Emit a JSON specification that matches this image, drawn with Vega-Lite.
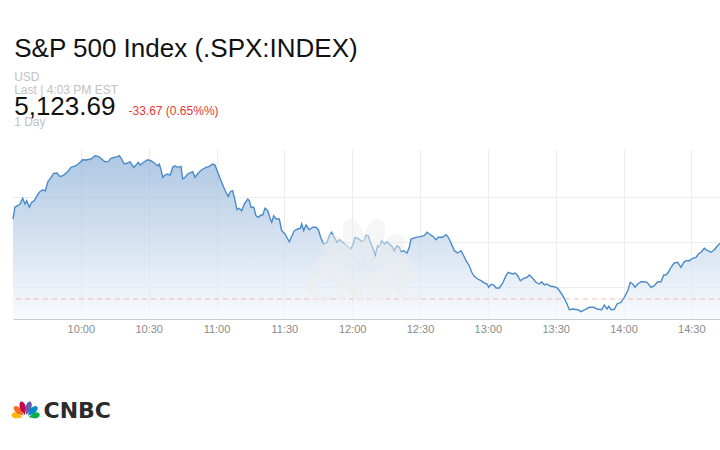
{
  "$schema": "https://vega.github.io/schema/vega-lite/v6.json",
  "background": "white",
  "padding": {"left": 10, "top": 36, "right": 0, "bottom": 0},
  "title": {
    "text": "S&P 500 Index (.SPX:INDEX)",
    "subtitle": ["USD", "Last | 4:03 PM EST"],
    "anchor": "start", "dx": 4, "offset": -2,
    "font": "Liberation Sans", "fontSize": 26, "fontWeight": "normal", "color": "#111111",
    "subtitleFont": "Liberation Sans", "subtitleFontSize": 12, "subtitleColor": "#c2c2c2",
    "subtitleLineHeight": 13, "subtitlePadding": 10
  },
  "vconcat": [
    {
      "width": 710,
      "height": 170,
      "title": {
        "text": "5,123.69", "subtitle": "1 Day",
        "anchor": "start", "dx": 4, "offset": -24,
        "font": "Liberation Sans", "fontSize": 26, "fontWeight": "normal", "color": "#111111",
        "subtitleFont": "Liberation Sans", "subtitleFontSize": 12, "subtitleColor": "#c2c2c2",
        "subtitlePadding": -3
      },
      "layer": [
        {
          "data": {
            "format": {"parse": {"time": "date:'%H:%M:%S'"}},
            "values": [
              {"time":"09:30:00","value":5175.04},{"time":"09:30:53","value":5177.70},{"time":"09:32:05","value":5177.98},{"time":"09:33:06","value":5178.36},{"time":"09:34:17","value":5179.62},{"time":"09:35:18","value":5178.36},{"time":"09:36:04","value":5179.09},{"time":"09:37:13","value":5177.63},{"time":"09:38:16","value":5178.74},{"time":"09:39:25","value":5179.09},
              {"time":"09:40:37","value":5180.20},{"time":"09:41:38","value":5180.95},{"time":"09:43:08","value":5181.52},{"time":"09:44:17","value":5181.24},{"time":"09:45:21","value":5183.16},{"time":"09:46:30","value":5184.04},{"time":"09:48:00","value":5185.15},{"time":"09:49:28","value":5185.22},{"time":"09:50:47","value":5184.40},{"time":"09:52:25","value":5184.77},
              {"time":"09:54:11","value":5185.50},{"time":"09:55:39","value":5186.48},{"time":"09:57:52","value":5186.83},{"time":"09:59:19","value":5187.43},{"time":"10:00:50","value":5188.16},{"time":"10:02:17","value":5188.09},{"time":"10:04:30","value":5188.31},{"time":"10:06:16","value":5189.04},{"time":"10:07:43","value":5188.91},{"time":"10:09:14","value":5188.31},
              {"time":"10:10:41","value":5187.72},{"time":"10:12:09","value":5187.80},{"time":"10:13:20","value":5188.47},{"time":"10:14:48","value":5188.69},{"time":"10:15:33","value":5188.69},{"time":"10:17:01","value":5189.04},{"time":"10:18:04","value":5188.31},{"time":"10:19:13","value":5187.21},{"time":"10:20:44","value":5187.43},{"time":"10:21:44","value":5187.72},
              {"time":"10:23:23","value":5186.48},{"time":"10:24:24","value":5186.99},{"time":"10:25:25","value":5187.58},{"time":"10:26:18","value":5186.99},{"time":"10:28:04","value":5187.72},{"time":"10:29:34","value":5188.16},{"time":"10:31:02","value":5187.94},{"time":"10:32:29","value":5187.43},{"time":"10:34:00","value":5186.83},{"time":"10:34:42","value":5187.21},
              {"time":"10:35:27","value":5185.95},{"time":"10:36:13","value":5184.27},{"time":"10:37:13","value":5184.77},{"time":"10:38:25","value":5185.00},{"time":"10:39:34","value":5184.77},{"time":"10:40:38","value":5186.48},{"time":"10:41:39","value":5186.83},{"time":"10:42:50","value":5186.48},{"time":"10:44:18","value":5186.70},{"time":"10:45:03","value":5183.89},
              {"time":"10:46:04","value":5184.27},{"time":"10:47:16","value":5185.00},{"time":"10:48:43","value":5185.37},{"time":"10:49:29","value":5185.50},{"time":"10:50:29","value":5184.27},{"time":"10:51:57","value":5185.22},{"time":"10:53:28","value":5185.95},{"time":"10:55:22","value":5186.48},{"time":"10:56:49","value":5186.70},{"time":"10:58:19","value":5187.21},
              {"time":"10:59:20","value":5186.99},{"time":"11:00:32","value":5185.37},{"time":"11:01:41","value":5183.89},{"time":"11:03:11","value":5182.05},{"time":"11:04:12","value":5180.95},{"time":"11:05:13","value":5180.06},{"time":"11:06:06","value":5181.08},{"time":"11:07:10","value":5181.30},{"time":"11:07:52","value":5179.84},{"time":"11:09:04","value":5177.10},
              {"time":"11:10:05","value":5177.41},{"time":"11:11:09","value":5176.88},{"time":"11:12:18","value":5178.36},{"time":"11:13:48","value":5179.47},{"time":"11:14:31","value":5179.09},{"time":"11:15:16","value":5177.63},{"time":"11:16:27","value":5177.63},{"time":"11:17:28","value":5175.77},{"time":"11:18:29","value":5175.42},{"time":"11:19:41","value":5175.93},
              {"time":"11:20:26","value":5175.93},{"time":"11:21:27","value":5177.41},{"time":"11:22:38","value":5176.88},{"time":"11:23:48","value":5175.04},{"time":"11:24:25","value":5174.31},{"time":"11:25:18","value":5175.77},{"time":"11:26:19","value":5175.04},{"time":"11:27:46","value":5175.04},{"time":"11:28:50","value":5172.45},{"time":"11:30:18","value":5171.72},
              {"time":"11:31:29","value":5170.62},{"time":"11:32:12","value":5170.02},{"time":"11:33:16","value":5171.21},{"time":"11:34:25","value":5172.45},{"time":"11:35:55","value":5172.83},{"time":"11:37:04","value":5172.98},{"time":"11:37:41","value":5173.94},{"time":"11:38:34","value":5172.45},{"time":"11:39:35","value":5173.71},{"time":"11:41:02","value":5172.67},
              {"time":"11:42:33","value":5173.21},{"time":"11:44:01","value":5173.21},{"time":"11:45:02","value":5172.67},{"time":"11:46:13","value":5170.77},{"time":"11:47:25","value":5169.51},{"time":"11:48:52","value":5169.89},{"time":"11:49:53","value":5171.35},{"time":"11:50:57","value":5172.10},{"time":"11:52:06","value":5170.99},{"time":"11:53:17","value":5169.89},
              {"time":"11:54:19","value":5170.46},{"time":"11:55:49","value":5169.89},{"time":"11:57:16","value":5169.29},{"time":"11:59:11","value":5168.41},{"time":"12:00:14","value":5169.14},{"time":"12:01:15","value":5170.99},{"time":"12:02:27","value":5170.77},{"time":"12:03:55","value":5170.24},{"time":"12:05:06","value":5170.02},{"time":"12:06:07","value":5171.50},
              {"time":"12:07:08","value":5171.35},{"time":"12:08:20","value":5169.51},{"time":"12:09:21","value":5168.41},{"time":"12:10:14","value":5167.08},{"time":"12:11:17","value":5169.14},{"time":"12:12:00","value":5168.78},{"time":"12:13:04","value":5170.24},{"time":"12:14:13","value":5169.51},{"time":"12:15:25","value":5170.02},{"time":"12:16:25","value":5169.51},
              {"time":"12:17:56","value":5168.78},{"time":"12:18:38","value":5168.03},{"time":"12:19:50","value":5169.14},{"time":"12:20:50","value":5168.78},{"time":"12:21:36","value":5167.81},{"time":"12:22:47","value":5168.03},{"time":"12:24:15","value":5167.52},{"time":"12:25:16","value":5168.78},{"time":"12:26:01","value":5170.62},{"time":"12:28:14","value":5170.99},
              {"time":"12:30:26","value":5171.21},{"time":"12:31:54","value":5171.35},{"time":"12:33:06","value":5172.10},{"time":"12:34:07","value":5171.72},{"time":"12:35:37","value":5171.21},{"time":"12:37:05","value":5170.46},{"time":"12:38:05","value":5170.99},{"time":"12:40:02","value":5170.99},{"time":"12:41:30","value":5171.57},{"time":"12:42:31","value":5170.99},
              {"time":"12:43:43","value":5169.73},{"time":"12:45:10","value":5168.03},{"time":"12:46:40","value":5167.52},{"time":"12:48:08","value":5168.03},{"time":"12:49:20","value":5166.92},{"time":"12:50:21","value":5165.82},{"time":"12:51:48","value":5164.71},{"time":"12:52:52","value":5163.25},{"time":"12:54:01","value":5162.37},{"time":"12:55:31","value":5161.77},
              {"time":"12:56:59","value":5161.39},{"time":"12:58:26","value":5160.88},{"time":"12:59:38","value":5160.66},{"time":"13:00:23","value":5159.93},{"time":"13:01:24","value":5160.60},{"time":"13:02:36","value":5160.44},{"time":"13:03:37","value":5159.78},{"time":"13:05:04","value":5159.78},{"time":"13:06:35","value":5160.88},{"time":"13:08:02","value":5162.50},
              {"time":"13:09:03","value":5163.25},{"time":"13:11:00","value":5162.88},{"time":"13:12:01","value":5163.10},{"time":"13:13:13","value":5162.50},{"time":"13:14:22","value":5161.39},{"time":"13:15:52","value":5161.92},{"time":"13:17:19","value":5162.15},{"time":"13:18:20","value":5162.65},{"time":"13:19:50","value":5161.92},{"time":"13:21:18","value":5161.04},
              {"time":"13:22:46","value":5160.66},{"time":"13:23:49","value":5161.17},{"time":"13:24:58","value":5160.44},{"time":"13:26:10","value":5160.66},{"time":"13:27:38","value":5160.15},{"time":"13:29:24","value":5160.07},{"time":"13:30:54","value":5159.71},{"time":"13:32:22","value":5158.67},{"time":"13:33:49","value":5157.50},{"time":"13:35:01","value":5156.24},
              {"time":"13:36:02","value":5154.98},{"time":"13:37:32","value":5155.13},{"time":"13:39:45","value":5154.98},{"time":"13:41:13","value":5154.54},{"time":"13:42:58","value":5154.98},{"time":"13:44:53","value":5155.51},{"time":"13:46:49","value":5155.51},{"time":"13:48:17","value":5155.13},{"time":"13:50:22","value":5154.98},{"time":"13:51:31","value":5156.02},
              {"time":"13:52:43","value":5155.13},{"time":"13:53:28","value":5155.73},{"time":"13:54:29","value":5154.98},{"time":"13:55:56","value":5155.07},{"time":"13:57:08","value":5156.24},{"time":"13:58:54","value":5156.62},{"time":"14:00:22","value":5157.72},{"time":"14:01:52","value":5159.18},{"time":"14:03:01","value":5161.04},{"time":"14:04:05","value":5160.66},
              {"time":"14:05:05","value":5159.93},{"time":"14:06:17","value":5160.66},{"time":"14:07:45","value":5161.17},{"time":"14:09:13","value":5161.17},{"time":"14:10:24","value":5161.04},{"time":"14:12:10","value":5159.93},{"time":"14:13:37","value":5160.29},{"time":"14:15:08","value":5161.17},{"time":"14:16:35","value":5161.17},{"time":"14:17:47","value":5162.65},
              {"time":"14:18:48","value":5162.65},{"time":"14:19:49","value":5163.25},{"time":"14:21:01","value":5164.36},{"time":"14:22:28","value":5165.31},{"time":"14:23:58","value":5165.46},{"time":"14:25:26","value":5164.36},{"time":"14:26:38","value":5165.46},{"time":"14:27:38","value":5165.82},{"time":"14:29:06","value":5165.82},{"time":"14:30:37","value":5166.35},
              {"time":"14:32:04","value":5166.57},{"time":"14:33:05","value":5167.30},{"time":"14:34:17","value":5167.68},{"time":"14:35:44","value":5168.56},{"time":"14:37:14","value":5168.03},{"time":"14:38:42","value":5167.68},{"time":"14:40:10","value":5168.25},{"time":"14:41:22","value":5169.00},{"time":"14:42:22","value":5169.51},{"time":"14:43:34","value":5169.89}
            ]
          },
          "mark": {
            "type": "area",
            "color": {
              "gradient": "linear", "x1": 0, "y1": 0, "x2": 0, "y2": 1,
              "stops": [{"offset": 0, "color": "#8db1d8"}, {"offset": 1, "color": "#f7f9fc"}]
            },
            "line": {"color": "#4a8bc9", "strokeWidth": 1.4}
          },
          "encoding": {
            "x": {
              "field": "time", "type": "temporal", "title": "CNBC",
              "scale": {"domain": [
                {"year": 1900, "month": 1, "date": 1, "hours": 9, "minutes": 30},
                {"year": 1900, "month": 1, "date": 1, "hours": 14, "minutes": 44}
              ]},
              "axis": {
                "values": [
                  {"year": 1900, "month": 1, "date": 1, "hours": 10, "minutes": 0},
                  {"year": 1900, "month": 1, "date": 1, "hours": 10, "minutes": 30},
                  {"year": 1900, "month": 1, "date": 1, "hours": 11, "minutes": 0},
                  {"year": 1900, "month": 1, "date": 1, "hours": 11, "minutes": 30},
                  {"year": 1900, "month": 1, "date": 1, "hours": 12, "minutes": 0},
                  {"year": 1900, "month": 1, "date": 1, "hours": 12, "minutes": 30},
                  {"year": 1900, "month": 1, "date": 1, "hours": 13, "minutes": 0},
                  {"year": 1900, "month": 1, "date": 1, "hours": 13, "minutes": 30},
                  {"year": 1900, "month": 1, "date": 1, "hours": 14, "minutes": 0},
                  {"year": 1900, "month": 1, "date": 1, "hours": 14, "minutes": 30}
                ],
                "format": "%H:%M", "grid": true, "gridColor": "#ececec", "ticks": false,
                "domainColor": "#cccccc", "labelColor": "#8a8a8a", "labelFontSize": 11,
                "labelFont": "Liberation Sans", "labelPadding": 4, "labelFlush": false,
                "titleX": 30, "titleY": 98, "titleAlign": "left", "titleBaseline": "alphabetic",
                "titleFont": "DejaVu Sans", "titleFontSize": 22, "titleFontWeight": "bold", "titleColor": "#2b2b2b"
              }
            },
            "y": {
              "field": "value", "type": "quantitative", "title": "-33.67 (0.65%%)",
              "scale": {"domain": [5152.92, 5190.53], "zero": false, "nice": false},
              "axis": {
                "values": [5160, 5165, 5170, 5175, 5180, 5185],
                "grid": true, "gridColor": "#ececec", "labels": false, "ticks": false, "domain": false,
                "titleAngle": 0, "titleX": 115, "titleY": -35, "titleAlign": "left", "titleBaseline": "alphabetic",
                "titleFont": "Liberation Sans", "titleFontSize": 12, "titleFontWeight": "normal", "titleColor": "#e8372f"
              }
            },
            "y2": {"datum": 5152.92}
          }
        },
        {
          "data": {"values": [{"previous_close": 5157.36}]},
          "mark": {"type": "rule", "color": "#f0a595", "strokeDash": [5, 4], "strokeWidth": 1, "opacity": 0.7},
          "encoding": {
            "y": {"field": "previous_close", "type": "quantitative", "title": "-33.67 (0.65%%)"}
          }
        },
        {
          "data": {"values": [{"label": "CNBC"}]},
          "mark": {"type": "text", "font": "DejaVu Sans", "fontWeight": "bold", "fontSize": 38, "color": "#eeeeee", "opacity": 0.75, "align": "center", "baseline": "middle"},
          "encoding": {
            "x": {"datum": {"year": 1900, "month": 1, "date": 1, "hours": 12, "minutes": 5, "seconds": 14}, "type": "temporal", "title": "CNBC"},
            "y": {"datum": 5159.56, "type": "quantitative", "title": "-33.67 (0.65%%)"},
            "text": {"field": "label"}
          }
        },
        {
          "data": {"values": [
            {"feather": "yellow", "k": 1}, {"feather": "orange", "k": 2}, {"feather": "red", "k": 3},
            {"feather": "purple", "k": 4}, {"feather": "blue", "k": 5}, {"feather": "green", "k": 6}
          ]},
          "mark": {"type": "point", "filled": true, "size": 13456, "color": "#eeeeee", "opacity": 0.5, "strokeWidth": 0},
          "encoding": {
            "x": {"datum": {"year": 1900, "month": 1, "date": 1, "hours": 12, "minutes": 5, "seconds": 14}, "type": "temporal", "title": "CNBC"},
            "y": {"datum": 5162.65, "type": "quantitative", "title": "-33.67 (0.65%%)"},
            "shape": {
              "field": "feather", "type": "nominal", "legend": null,
              "scale": {
                "domain": ["yellow", "orange", "red", "purple", "blue", "green"],
                "range": [
                  "M-0.174,-0.047L-0.484,-0.316Q-0.774,-0.394,-0.821,-0.220Q-0.868,-0.046,-0.578,0.032Z",
                  "M-0.127,-0.127L-0.262,-0.516Q-0.545,-0.799,-0.672,-0.672Q-0.799,-0.545,-0.516,-0.262Z",
                  "M-0.047,-0.174L0.032,-0.578Q-0.085,-1.013,-0.259,-0.966Q-0.433,-0.919,-0.316,-0.484Z",
                  "M0.047,-0.174L-0.032,-0.578Q0.085,-1.013,0.259,-0.966Q0.433,-0.919,0.316,-0.484Z",
                  "M0.127,-0.127L0.262,-0.516Q0.545,-0.799,0.672,-0.672Q0.799,-0.545,0.516,-0.262Z",
                  "M0.174,-0.047L0.484,-0.316Q0.774,-0.394,0.821,-0.220Q0.868,-0.046,0.578,0.032Z"
                ]
              }
            }
          }
        },
        {
          "data": {"values": [
            {"feather": "yellow", "k": 1}, {"feather": "orange", "k": 2}, {"feather": "red", "k": 3},
            {"feather": "purple", "k": 4}, {"feather": "blue", "k": 5}, {"feather": "green", "k": 6}
          ]},
          "mark": {"type": "point", "filled": true, "size": 1156, "opacity": 1, "strokeWidth": 0},
          "encoding": {
            "x": {"datum": {"year": 1900, "month": 1, "date": 1, "hours": 9, "minutes": 35, "seconds": 36}, "type": "temporal", "title": "CNBC"},
            "y": {"datum": 5131.02, "type": "quantitative", "title": "-33.67 (0.65%%)"},
            "shape": {
              "field": "feather", "type": "nominal", "legend": null,
              "scale": {
                "domain": ["yellow", "orange", "red", "purple", "blue", "green"],
                "range": [
                  "M-0.174,-0.047L-0.484,-0.316Q-0.774,-0.394,-0.821,-0.220Q-0.868,-0.046,-0.578,0.032Z",
                  "M-0.127,-0.127L-0.262,-0.516Q-0.545,-0.799,-0.672,-0.672Q-0.799,-0.545,-0.516,-0.262Z",
                  "M-0.047,-0.174L0.032,-0.578Q-0.085,-1.013,-0.259,-0.966Q-0.433,-0.919,-0.316,-0.484Z",
                  "M0.047,-0.174L-0.032,-0.578Q0.085,-1.013,0.259,-0.966Q0.433,-0.919,0.316,-0.484Z",
                  "M0.127,-0.127L0.262,-0.516Q0.545,-0.799,0.672,-0.672Q0.799,-0.545,0.516,-0.262Z",
                  "M0.174,-0.047L0.484,-0.316Q0.774,-0.394,0.821,-0.220Q0.868,-0.046,0.578,0.032Z"
                ]
              }
            },
            "color": {
              "field": "feather", "type": "nominal", "legend": null,
              "scale": {
                "domain": ["yellow", "orange", "red", "purple", "blue", "green"],
                "range": ["#fcb711", "#f37021", "#cc004c", "#6460aa", "#0089d0", "#0db14b"]
              }
            }
          }
        }
      ]
    }
  ],
  "config": {
    "font": "Liberation Sans",
    "view": {"stroke": null}
  }
}
